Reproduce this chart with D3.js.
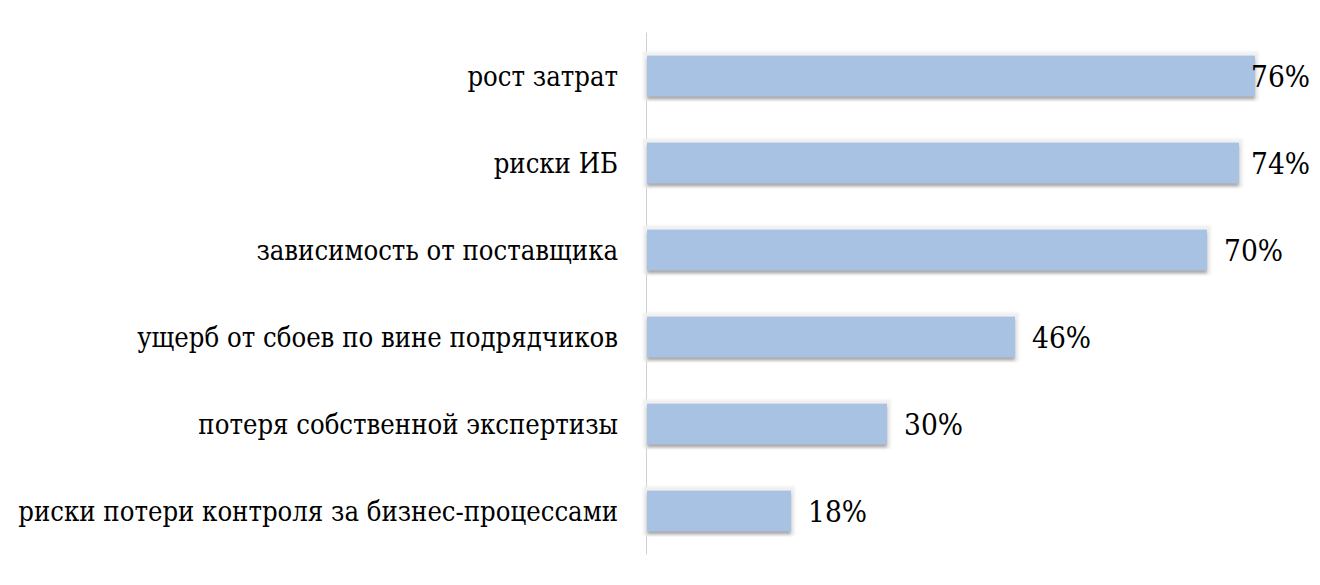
<!DOCTYPE html>
<html><head><meta charset="utf-8">
<script src="https://cdn.jsdelivr.net/npm/d3@7"></script>
<style>html,body{margin:0;padding:0;background:#fff;}svg{display:block;}</style>
</head><body>
<svg id="c" width="1320" height="585"></svg>
<script>
const categories = ["рост затрат","риски ИБ","зависимость от поставщика","ущерб от сбоев по вине подрядчиков","потеря собственной экспертизы","риски потери контроля за бизнес-процессами"];
const values = [76,74,70,46,30,18];
const valueLabels = ["76%","74%","70%","46%","30%","18%"];

const W=1320,H=585;
const svg=d3.select("#c");
const font="'DejaVu Serif Condensed','DejaVu Serif',serif";
const x=d3.scaleLinear().domain([0,76]).range([647,1255]);
const y=d3.scaleBand().domain(categories).range([32.5,554.5]).paddingInner(0.53).paddingOuter(0.265);

const defs=svg.append("defs");
const f=defs.append("filter").attr("id","sh").attr("x","-5%").attr("y","-40%").attr("width","110%").attr("height","190%");
f.append("feMorphology").attr("in","SourceAlpha").attr("operator","dilate").attr("radius",4).attr("result","dil");
f.append("feGaussianBlur").attr("in","dil").attr("stdDeviation",1).attr("result","dilb");
f.append("feFlood").attr("flood-color","#f0f0f0").attr("result","gc");
f.append("feComposite").attr("in","gc").attr("in2","dilb").attr("operator","in").attr("result","halo");
f.append("feGaussianBlur").attr("in","SourceAlpha").attr("stdDeviation",1.6).attr("result","bl");
f.append("feOffset").attr("in","bl").attr("dx",0).attr("dy",3).attr("result","off");
f.append("feFlood").attr("flood-color","#000").attr("flood-opacity",0.55).attr("result","sc");
f.append("feComposite").attr("in","sc").attr("in2","off").attr("operator","in").attr("result","shadow");
const m=f.append("feMerge");
m.append("feMergeNode").attr("in","halo");
m.append("feMergeNode").attr("in","shadow");
m.append("feMergeNode").attr("in","SourceGraphic");

svg.append("line").attr("x1",646.5).attr("x2",646.5).attr("y1",32.5).attr("y2",554.5).attr("stroke","#d0d0d0").attr("stroke-width",1);

svg.selectAll("rect.bar").data(categories).join("rect").attr("class","bar")
 .attr("x",x(0)).attr("y",d=>y(d)).attr("width",(d,i)=>x(values[i])-x(0)).attr("height",y.bandwidth())
 .attr("fill","#a7c2e2").attr("filter","url(#sh)");

svg.selectAll("text.cat").data(categories).join("text").attr("class","cat")
 .attr("x",618).attr("y",d=>y(d)+y.bandwidth()/2).attr("dy","0.35em").attr("text-anchor","end")
 .attr("font-family",font).attr("font-size",27.2).attr("fill","#000").text(d=>d);

svg.selectAll("text.val").data(categories).join("text").attr("class","val")
 .attr("y",d=>y(d)+y.bandwidth()/2).attr("dy","0.36em")
 .attr("font-family",font).attr("font-size",29.5).attr("fill","#000").text((d,i)=>valueLabels[i])
 .each(function(d,i){const t=d3.select(this);t.attr("x",x(values[i])+17);const w=this.getComputedTextLength();if(x(values[i])+17+w>1310)t.attr("x",1310-w);});
</script>
</body></html>
